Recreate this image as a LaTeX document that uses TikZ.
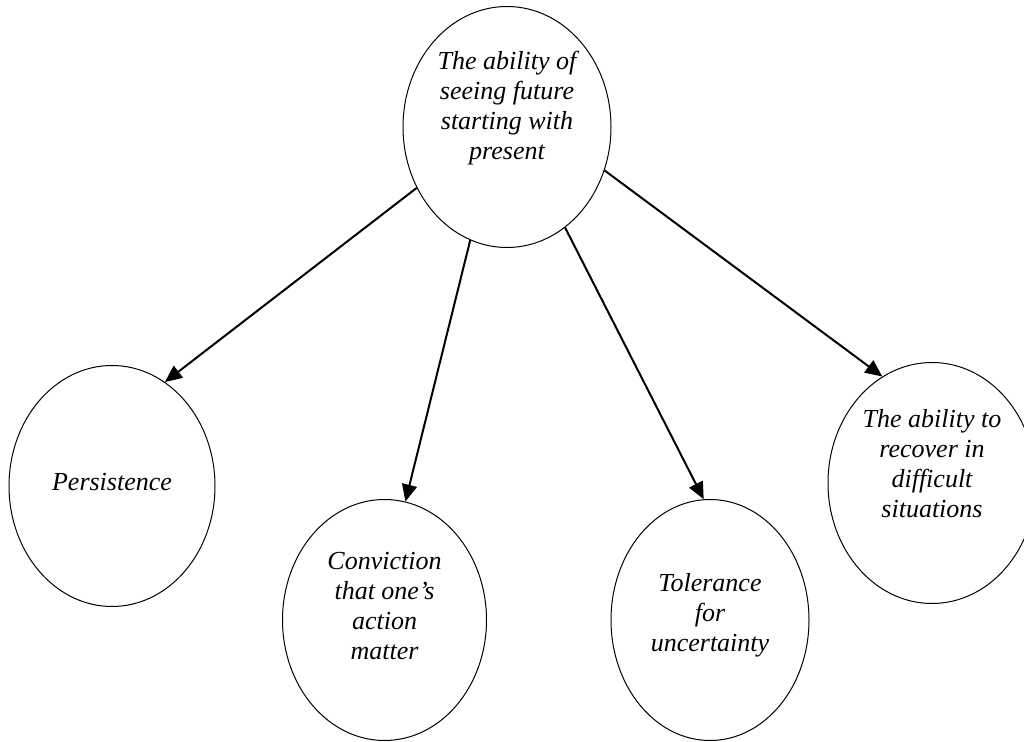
\documentclass[tikz,border=0pt]{standalone}
\usepackage{fontspec}
\setmainfont{Liberation Serif}
\usetikzlibrary{shapes.geometric,arrows.meta}
\begin{document}
\begin{tikzpicture}[x=0.5pt,y=-0.5pt,
  oval/.style={ellipse,draw,line width=0.5pt,minimum width=102pt,minimum height=120.5pt,inner sep=0pt},
  txt/.style={align=center,font=\fontsize{13}{15}\selectfont\itshape,inner sep=0pt},
  link/.style={line width=1pt,-{Triangle[length=8.5pt,width=7.5pt]}}]
\useasboundingbox (0,0) rectangle (1024,742);
\node[oval,minimum width=104pt,label={[txt,yshift=9.5pt]center:{The ability of\\seeing future\\starting with\\present}}] (top) at (507,127) {};
\node[oval,minimum width=103pt,label={[txt,yshift=2pt]center:{Persistence}}] (pers) at (112,486) {};
\node[oval,label={[txt,yshift=7pt]center:{Conviction\\that one’s\\action\\matter}}] (conv) at (384.5,620) {};
\node[oval,minimum width=99pt,label={[txt,yshift=2.5pt]center:{Tolerance\\for\\uncertainty}}] (tol) at (710,620) {};
\node[oval,minimum width=104pt,label={[txt,yshift=9.5pt]center:{The ability to\\recover in\\difficult\\situations}}] (rec) at (932,483) {};
\draw[link] (top.214.6) -- (pers.63.9);
\draw[link] (top.252.6) -- (conv.80.1);
\draw[link] (top.300.2) -- (tol.93.3);
\draw[link] (top.336.4) -- (rec.115);
\end{tikzpicture}
\end{document}
